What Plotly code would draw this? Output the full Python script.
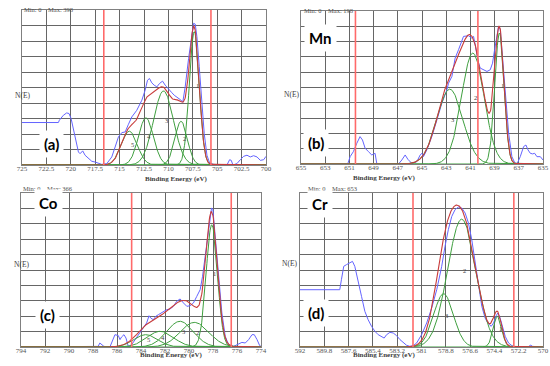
import numpy as np
import plotly.graph_objects as go

# ---------------- data (intensity in grid units 0-10) -------------
# Panel (a)
a_energy = [725.0, 721.27, 721.17, 720.76, 720.42, 720.18, 719.97, 719.73, 719.46, 719.22, 719.05,
            718.78, 718.54, 718.19, 717.85, 717.51, 717.17, 716.83, 716.31, 715.8, 715.46, 715.12,
            714.77, 714.43, 714.09, 713.75, 713.24, 712.72, 712.38, 712.14, 711.94, 711.7, 711.46,
            711.18, 710.91, 710.6, 710.33, 709.99, 709.64, 709.4, 709.13, 708.79, 708.52, 708.28,
            707.93, 707.59, 707.42, 707.25, 707.08, 706.84, 706.57, 706.33, 706.05, 705.78, 705.37,
            704.69, 704.0, 703.73, 703.56, 703.39, 702.98, 702.63, 702.29, 701.95, 701.61, 701.27,
            700.92, 700.58, 700.24, 700.0]
a_counts = [2.74, 2.74, 2.89, 3.21, 3.36, 3.32, 3.0, 2.24, 1.38, 0.84, 0.73,
            0.91, 0.63, 0.41, 0.24, 0.19, 0.09, 0.04, 0.09, 0.52, 1.16, 1.81,
            2.09, 2.13, 2.63, 3.1, 3.53, 4.18, 4.83, 5.47, 5.58, 5.3, 5.15,
            5.04, 5.26, 5.41, 5.15, 4.87, 4.66, 4.5, 4.4, 4.22, 4.07, 5.04,
            6.88, 8.49, 9.14, 9.09, 8.28, 6.34, 4.18, 2.03, 0.63, 0.13, 0.04,
            0.0, 0.0, 0.34, 0.3, 0.0, 0.09, 0.34, 0.56, 0.63, 0.52, 0.6,
            0.52, 0.3, 0.34, 0.56]
a_peak_center = [707.35, 708.7, 710.5, 712.3, 714.0]
a_peak_height = [8.6, 2.82, 4.78, 3.04, 2.18]
a_peak_fwhm = [1.2, 1.5, 2.4, 1.8, 1.9]
a_limits = [716.62, 705.64]
a_ticks = [725, 722.5, 720, 717.5, 715, 712.5, 710, 707.5, 705, 702.5, 700]
a_tick_labels = ["725", "722.5", "720", "717.5", "715", "712.5", "710", "707.5", "705", "702.5", "700"]
a_max = 398

# Panel (b) Mn
b_energy = [655.0, 651.14, 650.94, 650.67, 650.39, 650.12, 649.92, 649.7, 649.43, 649.15, 648.88,
            648.74, 648.6, 646.94, 646.67, 646.39, 646.17, 645.84, 645.43, 645.15, 645.01, 644.88,
            644.6, 644.19, 643.77, 643.36, 642.94, 642.81, 642.53, 642.26, 641.98, 641.7, 641.57,
            641.15, 640.88, 640.74, 640.6, 640.32, 640.19, 639.91, 639.63, 639.36, 639.17, 639.0,
            638.81, 638.67, 638.53, 638.39, 638.12, 637.84, 637.57, 637.34, 637.15, 636.88, 636.6,
            636.41, 636.24, 636.05, 635.86, 635.69, 635.5, 635.22, 635.0]
b_counts = [0.0, 0.0, 0.48, 0.81, 1.35, 1.79, 1.57, 1.03, 0.81, 0.59, 0.7,
            0.04, 0.0, 0.0, 0.26, 0.59, 0.31, 0.04, 0.15, 0.59, 0.7, 0.48,
            0.92, 1.79, 2.88, 3.97, 4.85, 5.28, 5.72, 6.92, 7.47, 8.01, 8.34,
            8.38, 8.23, 8.34, 7.69, 6.59, 6.27, 6.16, 6.05, 6.16, 6.59, 7.47,
            8.34, 9.0, 8.78, 7.47, 4.63, 2.01, 0.48, 0.09, 0.0, 0.48, 1.14,
            1.24, 0.92, 0.7, 0.66, 0.7, 0.48, 0.48, 0.26]
b_peak_center = [638.6, 640.8, 642.7]
b_peak_height = [8.56, 7.25, 4.89]
b_peak_fwhm = [0.9, 2.2, 2.5]
b_limits = [650.5, 640.38]
b_ticks = [655, 653, 651, 649, 647, 645, 643, 641, 639, 637, 635]
b_tick_labels = [str(t) for t in b_ticks]
b_max = 198

# Panel (c) Co
c_energy = [794.0, 787.57, 787.43, 787.29, 787.09, 786.59, 786.31, 786.17, 785.89, 785.75, 785.62,
            785.42, 785.25, 785.06, 784.78, 784.5, 784.22, 783.94, 783.53, 783.33, 783.19, 782.97,
            782.77, 782.55, 782.27, 782.08, 781.86, 781.58, 781.3, 781.02, 780.74, 780.46, 780.18,
            779.91, 779.63, 779.35, 779.07, 778.87, 778.65, 778.46, 778.29, 778.12, 778.01, 777.82,
            777.54, 777.26, 776.98, 776.7, 776.28, 775.87, 775.59, 775.31, 775.03, 774.75, 774.56,
            774.33, 774.11, 774.0]
c_counts = [0.0, 0.04, 0.26, 0.15, 0.04, 0.0, 0.48, 0.8, 0.74, 0.48, 0.65,
            0.8, 0.58, 0.04, 0.15, 0.48, 0.8, 1.13, 1.56, 2.03, 1.88, 1.77,
            1.99, 2.1, 2.21, 2.32, 2.42, 2.47, 2.64, 2.97, 3.12, 2.86, 2.64,
            2.68, 2.86, 3.29, 3.72, 4.59, 5.89, 7.19, 8.27, 9.03, 8.92, 7.19,
            4.37, 2.21, 0.69, 0.15, 0.04, 0.22, 0.3, 0.26, 0.48, 0.8, 0.8,
            0.48, 0.09, 0.04]
c_peak_center = [778.1, 779.55, 780.75, 782.4, 783.6]
c_peak_height = [7.94, 1.6, 1.67, 1.02, 0.8]
c_peak_fwhm = [1.1, 2.8, 2.6, 2.6, 2.3]
c_limits = [784.78, 776.48]
c_ticks = [794, 792, 790, 788, 786, 784, 782, 780, 778, 776, 774]
c_tick_labels = [str(t) for t in c_ticks]
c_max = 366

# Panel (d) Cr
d_energy = [592.0, 588.4, 588.25, 588.04, 587.79, 587.49, 587.25, 587.04, 586.74, 586.43, 586.13,
            585.83, 585.52, 585.22, 584.92, 584.62, 584.38, 584.16, 583.86, 583.56, 583.26, 582.95,
            582.65, 582.35, 582.05, 581.74, 581.44, 580.99, 580.53, 580.08, 579.62, 579.17, 578.87,
            578.57, 578.26, 577.96, 577.66, 577.36, 577.05, 576.75, 576.45, 576.15, 575.84, 575.54,
            575.24, 575.0, 574.69, 574.48, 574.24, 574.09, 573.88, 573.66, 573.42, 573.12, 572.82,
            572.51, 571.3, 571.15, 570.94, 570.0]
d_counts = [3.72, 3.72, 4.37, 5.24, 5.35, 5.45, 5.56, 5.24, 4.37, 3.29, 2.32,
            1.77, 1.34, 1.02, 0.8, 0.65, 0.58, 0.8, 0.95, 0.91, 0.74, 0.48,
            0.26, 0.11, 0.04, 0.09, 0.26, 0.8, 1.56, 2.53, 3.72, 5.24, 6.54,
            7.62, 8.48, 8.92, 9.09, 9.03, 8.7, 8.05, 6.97, 5.45, 3.94, 2.64,
            1.88, 1.56, 1.34, 1.56, 2.03, 2.21, 1.88, 1.34, 0.69, 0.26, 0.09,
            0.0, 0.0, 0.13, 0.04, 0.0]
d_peak_center = [574.12, 577.36, 579.0]
d_peak_height = [1.99, 8.3, 3.46]
d_peak_fwhm = [0.9, 3.0, 2.1]
d_limits = [581.77, 572.64]
d_ticks = [592, 589.8, 587.6, 585.4, 583.2, 581, 578.8, 576.6, 574.4, 572.2, 570]
d_tick_labels = ["592", "589.8", "587.6", "585.4", "583.2", "581", "578.8", "576.6", "574.4", "572.2", "570"]
d_max = 653

# ---------------- layout helpers (pixel -> paper) -------------
W, H = 550, 366
def px(x):
    return x / W
def py(y):
    return 1 - y / H

panels = [
    dict(e=a_energy, c=a_counts, pc=a_peak_center, ph=a_peak_height, pw=a_peak_fwhm, lim=a_limits,
         tv=a_ticks, tt=a_tick_labels, mx=a_max, box=(22, 266, 10, 165), elem=None, elem_xy=None,
         letter="(a)", letter_xy=(39, 144), ne_xy=(13, 89), mm_xy=(22, 4), title_xy=(143, 179)),
    dict(e=b_energy, c=b_counts, pc=b_peak_center, ph=b_peak_height, pw=b_peak_fwhm, lim=b_limits,
         tv=b_ticks, tt=b_tick_labels, mx=b_max, box=(301, 543, 11, 164), elem="Mn", elem_xy=(320, 24),
         letter="(b)", letter_xy=(316, 143), ne_xy=(291, 88), mm_xy=(302, 5), title_xy=(418, 178)),
    dict(e=c_energy, c=c_counts, pc=c_peak_center, ph=c_peak_height, pw=c_peak_fwhm, lim=c_limits,
         tv=c_ticks, tt=c_tick_labels, mx=c_max, box=(21, 261, 193, 347), elem="Co", elem_xy=(34, 203),
         letter="(c)", letter_xy=(35, 329), ne_xy=(12, 271), mm_xy=(21, 188), title_xy=(138, 361)),
    dict(e=d_energy, c=d_counts, pc=d_peak_center, ph=d_peak_height, pw=d_peak_fwhm, lim=d_limits,
         tv=d_ticks, tt=d_tick_labels, mx=d_max, box=(300, 543, 193, 347), elem="Cr", elem_xy=(320, 204),
         letter="(d)", letter_xy=(316, 327), ne_xy=(289, 270), mm_xy=(306, 188), title_xy=(418, 361)),
]

BLUE = "#6464ff"
GREEN = "#3f9f3f"
ENV = "#c83c3c"
LIMIT = "#ff6a6a"
GRID = "#666666"
SERIF = "Liberation Serif"
SANS = "Lato"

fig = go.Figure()
layout = dict(width=W, height=H, margin=dict(l=0, r=0, t=0, b=0, pad=0, autoexpand=False),
              paper_bgcolor="white", plot_bgcolor="white", showlegend=False)
annotations = []
shapes = []

for i, p in enumerate(panels):
    n = "" if i == 0 else str(i + 1)
    xr, yr = "x" + n, "y" + n
    x0, x1, y0, y1 = p["box"]
    e_hi, e_lo = p["tv"][0], p["tv"][-1]

    # raw spectrum
    fig.add_trace(go.Scatter(x=p["e"], y=p["c"], mode="lines", xaxis=xr, yaxis=yr,
                             line=dict(color=BLUE, width=1), hoverinfo="skip"))
    # fitted components
    grid = np.linspace(e_lo, e_hi, 600)
    total = np.zeros_like(grid)
    for k, (cen, hgt, fw) in enumerate(zip(p["pc"], p["ph"], p["pw"])):
        sig = fw / 2.3548
        comp = hgt * np.exp(-0.5 * ((grid - cen) / sig) ** 2)
        total += comp
        fig.add_trace(go.Scatter(x=grid, y=comp, mode="lines", xaxis=xr, yaxis=yr,
                                 line=dict(color=GREEN, width=1), hoverinfo="skip"))
        annotations.append(dict(x=cen, y=0.6 * hgt, xref=xr, yref=yr, text=str(k + 1),
                                showarrow=False, xshift=3,
                                font=dict(family=SERIF, size=6.5, color="#404040")))
    # envelope
    fig.add_trace(go.Scatter(x=grid, y=total, mode="lines", xaxis=xr, yaxis=yr,
                             line=dict(color=ENV, width=1.1), hoverinfo="skip"))
    # region limits
    for lv in p["lim"]:
        shapes.append(dict(type="line", xref=xr, yref=yr + " domain", x0=lv, x1=lv, y0=0, y1=1,
                           line=dict(color=LIMIT, width=1.6), layer="above"))

    layout["xaxis" + n] = dict(domain=[px(x0), px(x1)], anchor=yr, range=[e_hi, e_lo],
                               tickvals=p["tv"], ticktext=p["tt"], ticks="", showgrid=True,
                               gridcolor=GRID, gridwidth=1, zeroline=False, showline=True,
                               mirror=True, linecolor="#808080", linewidth=1, automargin=False,
                               ticklabelstandoff=-3,
                               tickfont=dict(family=SERIF, size=7, color="#555555"))
    layout["yaxis" + n] = dict(domain=[py(y1), py(y0)], anchor=xr, range=[0, 10], dtick=1,
                               showticklabels=False, ticks="", showgrid=True, gridcolor=GRID,
                               gridwidth=1, zeroline=False, showline=True, mirror=True,
                               linecolor="#808080", linewidth=1, automargin=False)

    # texts around the panel
    annotations.append(dict(x=px(p["title_xy"][0]), y=py(p["title_xy"][1]), xref="paper", yref="paper",
                            text="<b>Binding Energy (eV)</b>", showarrow=False,
                            font=dict(family=SERIF, size=7, color="#404040")))
    annotations.append(dict(x=px(p["ne_xy"][0]), y=py(p["ne_xy"][1]), xref="paper", yref="paper",
                            text="N(E)", showarrow=False,
                            font=dict(family=SERIF, size=7.5, color="#404040")))
    annotations.append(dict(x=px(p["mm_xy"][0]), y=py(p["mm_xy"][1]), xref="paper", yref="paper",
                            xanchor="left", text=f"Min: 0&nbsp;&nbsp;&nbsp;&nbsp;Max: {p['mx']}",
                            showarrow=False, font=dict(family=SERIF, size=6.5, color="#505050")))
    annotations.append(dict(x=px(p["letter_xy"][0]), y=py(p["letter_xy"][1]), xref="paper", yref="paper",
                            text=f"<b>{p['letter']}</b>", showarrow=False, bgcolor="white",
                            borderpad=4, font=dict(family=SANS, size=15, color="black")))
    if p["elem"]:
        annotations.append(dict(x=px(p["elem_xy"][0]), y=py(p["elem_xy"][1]), xref="paper", yref="paper",
                                text=f"<b>{p['elem']}</b>", showarrow=False, bgcolor="white",
                                borderpad=4, font=dict(family=SANS, size=15, color="black")))

layout["annotations"] = annotations
layout["shapes"] = shapes
fig.update_layout(**layout)
fig.write_html("out.html", config={"displayModeBar": False},
               post_script="document.body.style.margin='0';")
